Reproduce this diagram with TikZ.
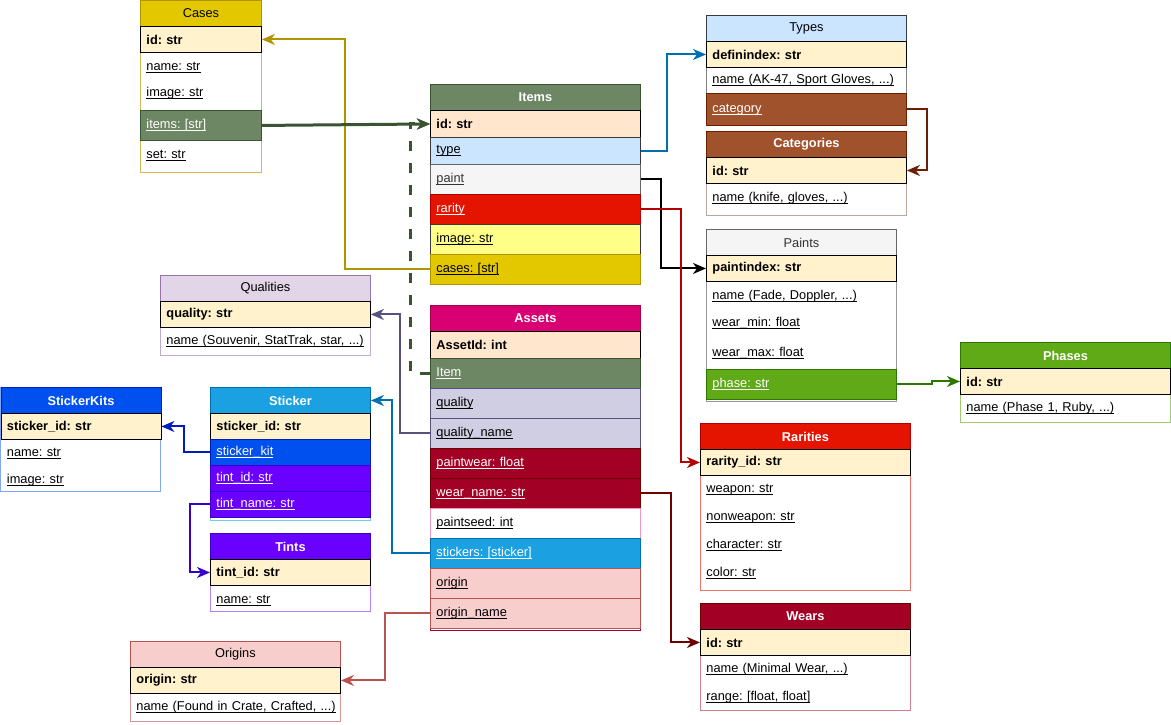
\documentclass[tikz,border=0pt]{standalone}
\usepackage{fontspec}
\setmainfont{Liberation Sans}
\usepackage{xcolor}
\usepackage{tikz}
\usetikzlibrary{arrows.meta,positioning}

\newcommand{\fld}[1]{\setbox0\hbox{#1}\rlap{\vrule height -1.4pt depth 2.2pt width \wd0}\box0}

\definecolor{keyfill}{HTML}{FFF2CC}
\definecolor{idfill}{HTML}{FFE6CC}
\definecolor{goldfill}{HTML}{E3C800}
\definecolor{golddark}{HTML}{B09500}
\definecolor{goldlight}{HTML}{D6B656}
\definecolor{sagefill}{HTML}{6D8764}
\definecolor{sagedark}{HTML}{3A5431}
\definecolor{skyfill}{HTML}{CCE5FF}
\definecolor{slate}{HTML}{36393D}
\definecolor{greyfill}{HTML}{F5F5F5}
\definecolor{greydark}{HTML}{666666}
\definecolor{greytext}{HTML}{333333}
\definecolor{redfill}{HTML}{E51400}
\definecolor{reddark}{HTML}{B20000}
\definecolor{lemonfill}{HTML}{FFFF88}
\definecolor{brownfill}{HTML}{A0522D}
\definecolor{browndark}{HTML}{6D1F00}
\definecolor{leaffill}{HTML}{60A917}
\definecolor{leafdark}{HTML}{2D7600}
\definecolor{lilacfill}{HTML}{E1D5E7}
\definecolor{lilacdark}{HTML}{9673A6}
\definecolor{cobaltfill}{HTML}{0050EF}
\definecolor{cobaltdark}{HTML}{001DBC}
\definecolor{cyanfill}{HTML}{1BA1E2}
\definecolor{cyandark}{HTML}{006EAF}
\definecolor{violetfill}{HTML}{6A00FF}
\definecolor{violetdark}{HTML}{3700CC}
\definecolor{magentafill}{HTML}{D80073}
\definecolor{magentadark}{HTML}{A50040}
\definecolor{mauvefill}{HTML}{D0CEE2}
\definecolor{mauvedark}{HTML}{56517E}
\definecolor{crimsonfill}{HTML}{A20025}
\definecolor{crimsondark}{HTML}{6F0000}
\definecolor{rosefill}{HTML}{F8CECC}
\definecolor{rosedark}{HTML}{B85450}

\tikzset{
  hdr/.style={draw, anchor=north west, minimum height=26pt, inner xsep=6pt, inner ysep=0pt, align=center},
  row/.style={anchor=north west, minimum height=#1, inner xsep=6pt, inner ysep=0pt, align=left},
  row/.default=26pt,
  keyrow/.style={row, draw=black, fill=keyfill, font=\bfseries},
  link/.style={line width=2pt, draw=#1, -{Stealth[length=13pt,width=11pt,inset=4pt]}},
}

\begin{document}
\fontsize{12.8}{15}\selectfont\frenchspacing
\begin{tikzpicture}[x=1pt, y=-1pt, line width=0.9pt]
  \useasboundingbox (0,0) rectangle (1171,724);

  % Cases
  \begin{scope}[every node/.append style={text width=109pt}]
    \draw[fill=white, draw=goldlight] (140,0) rectangle (261,172);
    \node[hdr, fill=goldfill, draw=golddark] (cases) at (140,0) {Cases};
    \node[keyrow] (cases-id) at (140,26) {id: str};
    \node[row=30pt] (cases-name) at (140,52) {\fld{name: str}};
    \node[row] (cases-image) at (140,80) {\fld{image: str}};
    \node[row=30pt, fill=sagefill, draw=sagedark, text=white] (cases-items) at (140,110) {\fld{items: [str]}};
    \node[row=30pt] (cases-set) at (140,140) {\fld{set: str}};
  \end{scope}

  % Items
  \begin{scope}[every node/.append style={text width=198pt}]
    \node[hdr, fill=sagefill, draw=sagedark, text=white, font=\bfseries] (items) at (430,84) {Items};
    \node[row=27pt, fill=idfill, draw=black, font=\bfseries] (items-id) at (430,110) {id: str};
    \node[row=27pt, fill=skyfill, draw=slate] (items-type) at (430,137) {\fld{type}};
    \node[row=30pt, fill=greyfill, draw=greydark, text=greytext] (items-paint) at (430,164) {\fld{paint}};
    \node[row=30pt, fill=redfill, draw=reddark, text=white] (items-rarity) at (430,194) {\fld{rarity}};
    \node[row=30pt, fill=lemonfill, draw=slate] (items-image) at (430,224) {\fld{image: str}};
    \node[row=30pt, fill=goldfill, draw=golddark] (items-cases) at (430,254) {\fld{cases: [str]}};
  \end{scope}

  % Types and Categories
  \begin{scope}[every node/.append style={text width=188pt}]
    \draw[fill=white, draw=gray] (706,15) rectangle (906,125);
    \node[hdr, fill=skyfill, draw=slate] (types) at (706,15) {Types};
    \node[keyrow] (types-def) at (706,41) {definindex: str};
    \node[row] (types-name) at (706,67) {\fld{name (AK-47, Sport Gloves, ...)}};
    \node[row=32pt, fill=brownfill, draw=browndark, text=white] (types-cat) at (706,93) {\fld{category}};

    \draw[fill=white, draw=brownfill!50!gray!60] (706,131) rectangle (906,215);
    \node[hdr, fill=brownfill, draw=browndark, text=white, font=\bfseries] (categories) at (706,131) {Categories};
    \node[keyrow] (categories-id) at (706,157) {id: str};
    \node[row=30pt] (categories-name) at (706,183) {\fld{name (knife, gloves, ...)}};
  \end{scope}

  % Paints
  \begin{scope}[every node/.append style={text width=178pt}]
    \draw[fill=white, draw=gray!80] (706,229) rectangle (896,401);
    \node[hdr, fill=greyfill, draw=greydark, text=greytext] (paints) at (706,229) {Paints};
    \node[keyrow] (paints-idx) at (706,255) {paintindex: str};
    \node[row=28pt] (paints-name) at (706,282) {\fld{name (Fade, Doppler, ...)}};
    \node[row] (paints-min) at (706,310) {\fld{wear\_min: float}};
    \node[row=28pt] (paints-max) at (706,339) {\fld{wear\_max: float}};
    \node[row=30pt, fill=leaffill, draw=leafdark, text=white] (paints-phase) at (706,369) {\fld{phase: str}};
  \end{scope}

  % Phases
  \begin{scope}[every node/.append style={text width=198pt}]
    \draw[fill=white, draw=leaffill!60] (960,342) rectangle (1170,422);
    \node[hdr, fill=leaffill, draw=leafdark, text=white, font=\bfseries] (phases) at (960,342) {Phases};
    \node[keyrow] (phases-id) at (960,368) {id: str};
    \node[row=28pt] (phases-name) at (960,394) {\fld{name (Phase 1, Ruby, ...)}};
  \end{scope}

  % Qualities
  \begin{scope}[every node/.append style={text width=198pt}]
    \draw[fill=white, draw=lilacdark!60] (160,275) rectangle (370,355);
    \node[hdr, fill=lilacfill, draw=lilacdark] (qualities) at (160,275) {Qualities};
    \node[keyrow] (qualities-key) at (160,301) {quality: str};
    \node[row=28pt] (qualities-name) at (160,327) {\fld{name (Souvenir, StatTrak, star, ...)}};
  \end{scope}

  % StickerKits, Sticker and Tints
  \begin{scope}[every node/.append style={text width=148pt}]
    \draw[fill=white, draw=cobaltfill!50] (0.5,387) rectangle (160.5,491);
    \node[hdr, fill=cobaltfill, draw=cobaltdark, text=white, font=\bfseries] (kits) at (0.5,387) {StickerKits};
    \node[keyrow] (kits-id) at (0.5,413) {sticker\_id: str};
    \node[row=28pt] (kits-name) at (0.5,439) {\fld{name: str}};
    \node[row=28pt] (kits-image) at (0.5,466) {\fld{image: str}};

    \draw[fill=white, draw=cyanfill!60] (210,387) rectangle (370,520);
    \node[hdr, fill=cyanfill, draw=cyandark, text=white, font=\bfseries] (sticker) at (210,387) {Sticker};
    \node[keyrow] (sticker-id) at (210,413) {sticker\_id: str};
    \node[row, fill=cobaltfill, draw=cobaltdark, text=white] (sticker-kit) at (210,439) {\fld{sticker\_kit}};
    \node[row, fill=violetfill, draw=violetdark, text=white] (sticker-tid) at (210,465) {\fld{tint\_id: str}};
    \node[row, fill=violetfill, draw=violetdark, text=white] (sticker-tname) at (210,491) {\fld{tint\_name: str}};

    \draw[fill=white, draw=violetfill!50] (210,533) rectangle (370,611);
    \node[hdr, fill=violetfill, draw=violetdark, text=white, font=\bfseries] (tints) at (210,533) {Tints};
    \node[keyrow] (tints-id) at (210,559) {tint\_id: str};
    \node[row=28pt] (tints-name) at (210,586) {\fld{name: str}};
  \end{scope}

  % Assets
  \begin{scope}[every node/.append style={text width=198pt}]
    \draw[fill=white, draw=magentadark] (430,305) rectangle (640,630);
    \node[hdr, fill=magentafill, draw=magentadark, text=white, font=\bfseries] (assets) at (430,305) {Assets};
    \node[row=27pt, fill=idfill, draw=black, font=\bfseries] (assets-id) at (430,331) {AssetId: int};
    \node[row=30pt, fill=sagefill, draw=sagedark, text=white] (assets-item) at (430,358) {\fld{Item}};
    \node[row=30pt, fill=mauvefill, draw=mauvedark] (assets-quality) at (430,388) {\fld{quality}};
    \node[row=30pt, fill=mauvefill, draw=mauvedark] (assets-qname) at (430,418) {\fld{quality\_name}};
    \node[row=30pt, fill=crimsonfill, draw=crimsondark, text=white] (assets-wear) at (430,448) {\fld{paintwear: float}};
    \node[row=30pt, fill=crimsonfill, draw=crimsondark, text=white] (assets-wname) at (430,478) {\fld{wear\_name: str}};
    \node[row=30pt, draw=magentafill!40] (assets-seed) at (430,508) {\fld{paintseed: int}};
    \node[row=30pt, fill=cyanfill, draw=cyandark, text=white] (assets-stickers) at (430,538) {\fld{stickers: [sticker]}};
    \node[row=30pt, fill=rosefill, draw=rosedark] (assets-origin) at (430,568) {\fld{origin}};
    \node[row=30pt, fill=rosefill, draw=rosedark] (assets-oname) at (430,598) {\fld{origin\_name}};
  \end{scope}

  % Rarities and Wears
  \begin{scope}[every node/.append style={text width=198pt}]
    \draw[fill=white, draw=redfill!60] (700,423) rectangle (910,590);
    \node[hdr, fill=redfill, draw=reddark, text=white, font=\bfseries] (rarities) at (700,423) {Rarities};
    \node[keyrow] (rarities-id) at (700,449) {rarity\_id: str};
    \node[row=28pt] (rarities-weapon) at (700,475) {\fld{weapon: str}};
    \node[row=28pt] (rarities-nonweapon) at (700,503) {\fld{nonweapon: str}};
    \node[row=28pt] (rarities-character) at (700,531) {\fld{character: str}};
    \node[row=28pt] (rarities-color) at (700,559) {\fld{color: str}};

    \draw[fill=white, draw=crimsonfill!50] (700,603) rectangle (910,710);
    \node[hdr, fill=crimsonfill, draw=crimsondark, text=white, font=\bfseries] (wears) at (700,603) {Wears};
    \node[keyrow] (wears-id) at (700,629) {id: str};
    \node[row=28pt] (wears-name) at (700,655) {\fld{name (Minimal Wear, ...)}};
    \node[row=28pt] (wears-range) at (700,683) {\fld{range: [float, float]}};
  \end{scope}

  % Origins
  \begin{scope}[every node/.append style={text width=198pt}]
    \draw[fill=white, draw=rosedark!60] (130,641) rectangle (340,721);
    \node[hdr, fill=rosefill, draw=rosedark] (origins) at (130,641) {Origins};
    \node[keyrow] (origins-key) at (130,667) {origin: str};
    \node[row=28pt] (origins-name) at (130,693) {\fld{name (Found in Crate, Crafted, ...)}};
  \end{scope}

  % Relations
  \draw[link=golddark] (items-cases.west) -- ++(-85,0) |- (cases-id.east);
  \draw[link=sagedark, line width=3pt] (cases-items.east) -- (items-id.west);
  \draw[link=sagedark, line width=3pt, dash pattern=on 10pt off 12pt] (assets-item.west) -- ++(-20,0) |- (items-id.west);
  \draw[link=cyandark] (items-type.east) -- ++(26,0) |- (types-def.west);
  \draw[link=black] (items-paint.east) -- ++(20,0) |- (paints-idx.west);
  \draw[link=reddark] (items-rarity.east) -- ++(40,0) |- (rarities-id.west);
  \draw[link=browndark] (types-cat.east) -- ++(20,0) |- (categories-id.east);
  \draw[link=leafdark] (paints-phase.east) -- ++(35,0) |- (phases-id.west);
  \draw[link=mauvedark] (assets-qname.west) -- ++(-30,0) |- (qualities-key.east);
  \draw[link=cyandark] (assets-stickers.west) -- ++(-38,0) |- (sticker.east);
  \draw[link=crimsondark] (assets-wname.east) -- ++(30,0) |- (wears-id.west);
  \draw[link=rosedark] (assets-oname.west) -- ++(-45,0) |- (origins-key.east);
  \draw[link=cobaltdark] (sticker-kit.west) -- ++(-26,0) |- (kits-id.east);
  \draw[link=violetdark] (sticker-tname.west) -- ++(-20,0) |- (tints-id.west);
\end{tikzpicture}
\end{document}
